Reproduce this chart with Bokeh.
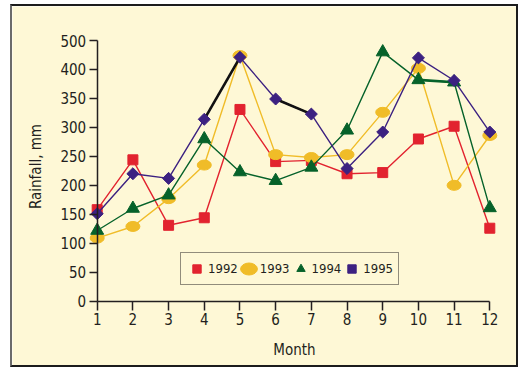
import math
from bokeh.plotting import figure
from bokeh.models import Range1d, FixedTicker, Legend, LegendItem, Label
from bokeh.embed import file_html
from bokeh.resources import INLINE

months = [1, 2, 3, 4, 5, 6, 7, 8, 9, 10, 11, 12]
rain_1992 = [158, 244, 131, 144, 331, 241, 243, 220, 222, 280, 302, 126]
rain_1993 = [109, 129, 177, 235, 424, 253, 248, 253, 326, 402, 200, 286]
rain_1994 = [122, 160, 183, 280, 223, 208, 231, 295, 430, 382, 378, 161]
rain_1995 = [151, 220, 212, 314, 421, 349, 323, 229, 292, 420, 381, 292]
y_ticks = [0, 50, 100, 150, 200, 250, 300, 350, 400, 450]
y_tick_labels = ["0", "50", "100", "150", "200", "250", "300", "350", "400", "500"]
series_names = ["1992", "1993", "1994", "1995"]
x_title = "Month"
y_title = "Rainfall, mm"

FONT = "DejaVu Sans Condensed, DejaVu Sans, sans-serif"
FS = "15px"
BG = "#fef8d6"
INK = "#231f20"
RED = "#e2232f"
YEL = "#f0bc28"
GRN = "#06622a"
PUR = "#3c2181"

# layout: the whole canvas is the plot frame; axes are pinned inside it
W, H = 508, 363
CX0, CY0 = 12, 6                  # canvas origin on the page
PX_M1, PX_M12 = 96.7, 489.3       # page x of month 1 and month 12
PY_0, PY_TOP = 300.7, 40.0        # page y of value 0 and of the top tick
ppx = (PX_M12 - PX_M1) / (months[-1] - months[0])
ppy = (PY_0 - PY_TOP) / y_ticks[-1]
x0 = months[0] - (PX_M1 - CX0) / ppx
x1 = x0 + W / ppx
y1 = (PY_0 - CY0) / ppy
y0 = y1 - H / ppy


def dx(px):
    return months[0] + (px - PX_M1) / ppx


def dy(py):
    return (PY_0 - py) / ppy


p = figure(width=W, height=H, output_backend="svg", toolbar_location=None,
           x_range=Range1d(x0, x1), y_range=Range1d(y0, y1),
           min_border=0, min_border_left=0, min_border_right=0,
           min_border_top=0, min_border_bottom=0,
           background_fill_color=BG, border_fill_color=BG, outline_line_color=None,
           margin=(4, 0, 0, 10))
p.styles = {"border": "2px solid #1c1c1c", "border-left-color": "#6b6b6b"}
p.grid.visible = False

lw = 1.4
p.line(months, rain_1992, color=RED, line_width=lw)
r92 = p.scatter(months, rain_1992, marker="square", size=10, color=RED)
p.line(months, rain_1993, color=YEL, line_width=lw)
r93 = p.ellipse(months, rain_1993, width=14, height=10, width_units="screen",
                height_units="screen", color=YEL)
p.line(months, rain_1994, color=GRN, line_width=lw)
p.line(months[9:11], rain_1994[9:11], color=GRN, line_width=2.6)
r94 = p.scatter(months, rain_1994, marker="triangle", size=13, color=GRN)
p.line(months, rain_1995, color=PUR, line_width=lw)
p.line(months[3:5], rain_1995[3:5], color="#111111", line_width=2.6)
p.line(months[5:7], rain_1995[5:7], color="#111111", line_width=2.6)
r95 = p.scatter(months, rain_1995, marker="square", angle=math.pi / 4, size=8.5, color=PUR)

for ax in (p.xaxis[0], p.yaxis[0]):
    ax.axis_line_color = INK
    ax.axis_line_width = 1.5
    ax.major_tick_line_color = INK
    ax.major_tick_line_width = 1.5
    ax.major_tick_in = 0
    ax.minor_tick_line_color = None
    ax.major_label_text_font = FONT
    ax.major_label_text_font_size = FS
    ax.major_label_text_color = INK

p.xaxis.ticker = FixedTicker(ticks=months)
p.xaxis.bounds = (months[0], months[-1])
p.xaxis.fixed_location = 0
p.xaxis.major_tick_out = 9
p.xaxis.major_label_standoff = 3

p.yaxis.ticker = FixedTicker(ticks=y_ticks)
p.yaxis.major_label_overrides = {t: s for t, s in zip(y_ticks, y_tick_labels)}
p.yaxis.bounds = (0, y_ticks[-1])
p.yaxis.fixed_location = months[0]
p.yaxis.major_tick_out = 8
p.yaxis.major_label_standoff = 3

p.add_layout(Label(x=dx(294), y=dy(349), text=x_title, text_font=FONT,
                   text_font_size=FS, text_color=INK, text_align="center",
                   text_baseline="middle"))
p.add_layout(Label(x=dx(35), y=dy(166), text=y_title, angle=math.pi / 2,
                   text_font=FONT, text_font_size=FS, text_color=INK,
                   text_align="center", text_baseline="middle"))

legend = Legend(items=[LegendItem(label=series_names[0], renderers=[r92]),
                       LegendItem(label=series_names[1], renderers=[r93]),
                       LegendItem(label=series_names[2], renderers=[r94]),
                       LegendItem(label=series_names[3], renderers=[r95])],
                orientation="horizontal", location=(168, 84),
                background_fill_color=BG, background_fill_alpha=1,
                border_line_color=INK, border_line_width=1.5,
                label_text_font=FONT, label_text_font_size="13px", label_text_color=INK,
                glyph_width=21, glyph_height=21, label_standoff=1, spacing=0,
                padding=5, margin=0, label_height=13)
p.add_layout(legend, "center")

open("out.html", "w").write(file_html(p, INLINE))
